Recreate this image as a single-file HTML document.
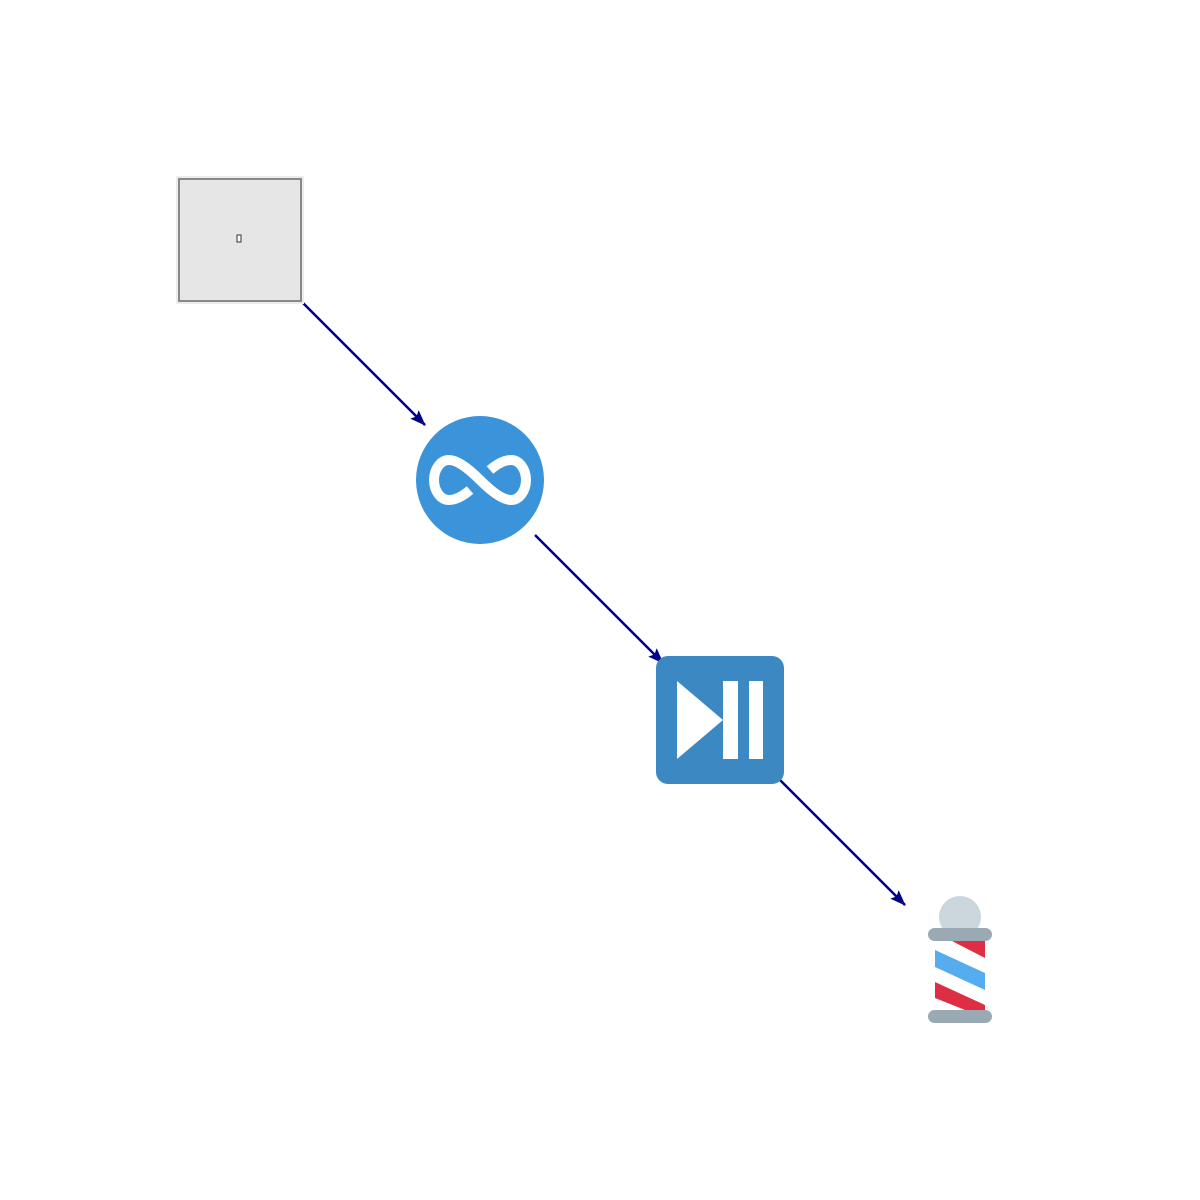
<!DOCTYPE html>
<html><head><meta charset="utf-8"><style>html,body{margin:0;padding:0;background:#fff}svg{display:block}</style></head>
<body>
<svg width="1200" height="1200" viewBox="0 0 1200 1200">
<defs><marker id="ah" markerWidth="16" markerHeight="12" refX="15" refY="6" orient="auto" markerUnits="userSpaceOnUse" viewBox="0 0 16 12"><path d="M0,0 L16,6 L0,12 L3,6 z" fill="#00008b"/></marker></defs>
<g>
<line x1="303" y1="303" x2="425" y2="425" stroke="#00008b" stroke-width="2.5" marker-end="url(#ah)"/>
<line x1="535" y1="535" x2="663" y2="663" stroke="#00008b" stroke-width="2.5" marker-end="url(#ah)"/>
<line x1="780" y1="780" x2="905" y2="905" stroke="#00008b" stroke-width="2.5" marker-end="url(#ah)"/>
</g>
<g>
<rect x="177" y="177" width="126" height="126" fill="#e6e6e6" stroke="#ececec" stroke-width="2"/>
<rect x="179" y="179" width="122" height="122" fill="#e6e6e6" stroke="#888" stroke-width="2"/>
<rect x="237" y="235" width="4" height="7" fill="#fff" stroke="#333" stroke-width="1"/>
</g>
<g>
<circle cx="480" cy="480" r="64" fill="#3b94d9"/>
<path d="M470,490 C463,496 456,500 449,500 C440,500 434,490 434,480 C434,470 440,460 449,460 C456,460 466,466 480,480 C494,494 504,500 511,500 C520,500 526,490 526,480 C526,470 520,460 511,460 C504,460 497,464 490,470" fill="none" stroke="#fff" stroke-width="10"/>
</g>
<g>
<rect x="656" y="656" width="128" height="128" rx="12" fill="#3b88c3"/>
<polygon points="677,681 677,759 723,720" fill="#fff"/>
<rect x="723" y="681" width="15" height="78" fill="#fff"/>
<rect x="749" y="681" width="14" height="78" fill="#fff"/>
</g>
<g>
<circle cx="960" cy="917" r="21" fill="#ccd6dd"/>
<rect x="935" y="940" width="50" height="72" fill="#fff"/>
<polygon points="950,940 985,940 985,958" fill="#dd2e44"/>
<polygon points="935,950 985,973 985,990 935,967" fill="#55acee"/>
<polygon points="935,982 985,1005 985,1012 970,1012 935,998" fill="#dd2e44"/>
<rect x="928" y="928" width="64" height="13" rx="6.5" fill="#99aab5"/>
<rect x="928" y="1010" width="64" height="13" rx="6.5" fill="#99aab5"/>
</g>
</svg>
</body></html>
